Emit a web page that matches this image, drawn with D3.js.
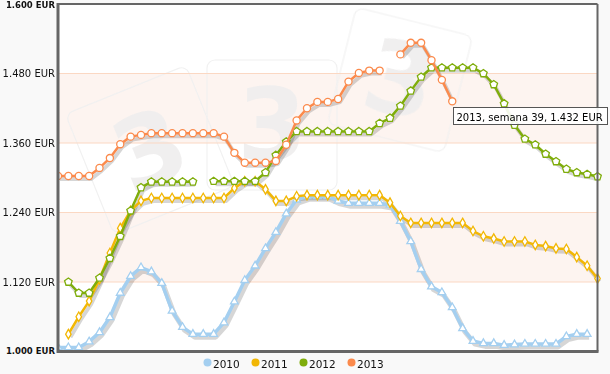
<!DOCTYPE html>
<html><head><meta charset="utf-8">
<script src="https://cdn.jsdelivr.net/npm/d3@7"></script>
<style>body{margin:0;background:#f9f9f9;}svg{display:block;}</style>
</head><body>
<svg id="c" width="610" height="374"></svg>
<script>
const weeks = d3.range(1, 54);
const seriesNames = ["2010", "2011", "2012", "2013"];
const yTicks = [1.000, 1.120, 1.240, 1.360, 1.480, 1.600];
const yTickLabels = ["1.000 EUR", "1.120 EUR", "1.240 EUR", "1.360 EUR", "1.480 EUR", "1.600 EUR"];
const colors = ["#a4cff0", "#f2b705", "#7fad0b", "#fb8a4c"];

const v2010 = [1.007,1.007,1.007,1.017,1.033,1.059,1.101,1.130,1.145,1.138,1.118,1.070,1.042,1.030,1.030,1.030,1.050,1.086,1.123,1.148,1.178,1.206,1.238,1.262,1.268,1.268,1.268,1.260,1.256,1.256,1.256,1.256,1.253,1.225,1.190,1.142,1.112,1.102,1.076,1.040,1.018,1.014,1.014,1.011,1.012,1.013,1.013,1.013,1.013,1.026,1.030,1.030,null];
const v2011 = [null,1.030,1.060,1.087,1.125,1.170,1.213,1.243,1.260,1.265,1.265,1.265,1.265,1.265,1.265,1.265,1.265,1.282,1.294,1.294,1.280,1.260,1.260,1.268,1.270,1.270,1.270,1.270,1.270,1.270,1.270,1.270,1.257,1.234,1.222,1.222,1.222,1.222,1.222,1.222,1.208,1.199,1.195,1.190,1.190,1.190,1.184,1.182,1.178,1.177,1.163,1.148,1.126];
const v2012 = [null,1.120,1.101,1.101,1.127,1.161,1.199,1.243,1.283,1.293,1.293,1.293,1.293,1.293,null,1.294,1.294,1.294,1.294,1.294,1.309,1.339,1.362,1.380,1.380,1.380,1.380,1.380,1.380,1.380,1.380,1.394,1.403,1.424,1.450,1.474,1.490,1.490,1.490,1.490,1.490,1.480,1.461,1.428,1.391,1.367,1.357,1.341,1.328,1.315,1.309,1.306,1.302];
const v2013 = [1.303,1.303,1.303,1.303,1.317,1.334,1.358,1.371,1.374,1.377,1.377,1.377,1.377,1.377,1.377,1.377,1.371,1.343,1.326,1.326,1.326,1.329,1.357,1.399,1.420,1.431,1.431,1.436,1.466,1.481,1.485,1.485,null,1.513,1.533,1.533,1.503,1.469,1.432];
const allValues = [v2010, v2011, v2012, v2013];

const L = 58, R = 597.5, T = 4, B = 351.5;
const svg = d3.select("#c");
const x = d3.scaleLinear().domain([1, 53]).range([L, R]);
const y = d3.scaleLinear().domain([1.0, 1.6]).range([B, T]);

svg.append("rect").attr("x", L).attr("y", T).attr("width", R - L).attr("height", B - T).attr("fill", "#fff");
[[1.36, 1.48], [1.12, 1.24]].forEach(b => {
  svg.append("rect").attr("x", L).attr("width", R - L)
    .attr("y", y(b[1])).attr("height", y(b[0]) - y(b[1])).attr("fill", "#fdf4f0");
});

// watermark
const wm = svg.append("g").attr("opacity", 0.9);
[{cx: 150, cy: 150, a: -22, w: 130, h: 130}, {cx: 272, cy: 125, a: 0, w: 130, h: 130}, {cx: 400, cy: 80, a: 14, w: 120, h: 120}].forEach(d => {
  const g = wm.append("g").attr("transform", `translate(${d.cx},${d.cy}) rotate(${d.a})`);
  g.append("rect").attr("x", -d.w/2).attr("y", -d.h/2).attr("width", d.w).attr("height", d.h)
    .attr("rx", 8).attr("fill", "none").attr("stroke", "#f0f0f0").attr("stroke-width", 1.2);
  g.append("text").attr("text-anchor", "middle").attr("y", 35).attr("font-family", "DejaVu Sans, sans-serif")
    .attr("font-weight", "bold").attr("font-size", 100).attr("fill", "#efeeee").text("3");
});

[1.12, 1.24, 1.36, 1.48].forEach(t => {
  svg.append("line").attr("x1", L).attr("x2", R).attr("y1", y(t)).attr("y2", y(t))
    .attr("stroke", "#fbd8c3").attr("stroke-width", 1);
});

const yAxis = d3.axisLeft(y).tickValues(yTicks).tickSize(0).tickPadding(3)
  .tickFormat((d, i) => yTickLabels[i]);
const ga = svg.append("g").attr("transform", `translate(${L},0)`).call(yAxis);
ga.select(".domain").remove();
ga.selectAll("text").attr("font-family", "DejaVu Sans, Verdana, sans-serif")
  .attr("font-size", d => (d === 1.6 || d === 1.0) ? 8.5 : 10)
  .attr("fill", "#111").attr("font-weight", d => (d === 1.6 || d === 1.0) ? "bold" : "normal");
ga.selectAll(".tick").filter(d => d === 1.6).select("text").attr("dy", "0.45em");
ga.selectAll(".tick").filter(d => d === 1.0).select("text").attr("dy", "0.2em");

const line = d3.line().defined(d => d.v != null).x(d => x(d.w)).y(d => y(d.v));

function pentagon(r) {
  const pts = d3.range(5).map(i => {
    const a = -Math.PI / 2 + i * 2 * Math.PI / 5;
    return [r * Math.cos(a), r * Math.sin(a)];
  });
  return "M" + pts.map(p => p.join(",")).join("L") + "Z";
}
const markerPaths = [
  d3.symbol().type(d3.symbolTriangle).size(26)(),
  d3.symbol().type(d3.symbolDiamond).size(26)(),
  pentagon(4),
  d3.symbol().type(d3.symbolCircle).size(40)()
];
const widths = [3.5, 2.5, 2.5, 2.5];

svg.append("defs").append("clipPath").attr("id", "pc")
  .append("rect").attr("x", L).attr("y", T).attr("width", R - L + 6).attr("height", B - T);

const plot = svg.append("g").attr("clip-path", "url(#pc)");
allValues.forEach((vals, si) => {
  const data = vals.map((v, i) => ({w: weeks[i], v}));
  plot.append("path").datum(data).attr("d", line).attr("fill", "none")
    .attr("stroke", "rgba(0,0,0,0.16)").attr("stroke-width", widths[si] + 1.5)
    .attr("stroke-linejoin", "round").attr("transform", "translate(2,3)");
});
allValues.forEach((vals, si) => {
  const data = vals.map((v, i) => ({w: weeks[i], v}));
  const g = plot.append("g");
  g.append("path").datum(data).attr("d", line).attr("fill", "none")
    .attr("stroke", colors[si]).attr("stroke-width", widths[si]).attr("stroke-linejoin", "round");
  g.selectAll("path.m").data(data.filter(d => d.v != null)).join("path").attr("class", "m")
    .attr("d", markerPaths[si])
    .attr("transform", d => `translate(${x(d.w)},${y(d.v)})`)
    .attr("fill", "#fff").attr("stroke", colors[si]).attr("stroke-width", 1.3);
});

svg.append("line").attr("x1", L).attr("x2", R).attr("y1", T).attr("y2", T).attr("stroke", "#666").attr("stroke-width", 2);
svg.append("line").attr("x1", R).attr("x2", R).attr("y1", T).attr("y2", B).attr("stroke", "#666").attr("stroke-width", 2);
svg.append("line").attr("x1", L).attr("x2", L).attr("y1", T - 1).attr("y2", B + 1.5).attr("stroke", "#666").attr("stroke-width", 3);
svg.append("line").attr("x1", L).attr("x2", R + 1).attr("y1", B).attr("y2", B).attr("stroke", "#666").attr("stroke-width", 3);

const legX = [207.5, 255.5, 303.5, 351.5];
const leg = svg.append("g");
seriesNames.forEach((n, i) => {
  leg.append("circle").attr("cx", legX[i]).attr("cy", 362.5).attr("r", 4).attr("fill", colors[i]);
  leg.append("text").attr("x", legX[i] + 5.5).attr("y", 368).attr("font-family", "DejaVu Sans, Verdana, sans-serif")
    .attr("font-size", 10.5).attr("fill", "#111").text(n);
});

const tw = 39, tv = v2013[38];
const tip = svg.append("g");
tip.append("rect").attr("x", 453.5).attr("y", 107.5).attr("width", 154).attr("height", 17)
  .attr("fill", "#fff").attr("fill-opacity", 0.9).attr("stroke", "#555").attr("stroke-width", 1);
tip.append("text").attr("x", 456.5).attr("y", 120.5).attr("font-family", "DejaVu Sans, Verdana, sans-serif")
  .attr("font-size", 10).attr("fill", "#000")
  .text(`2013, semana ${tw}, ${d3.format(".3f")(tv)} EUR`);
</script>
</body></html>
